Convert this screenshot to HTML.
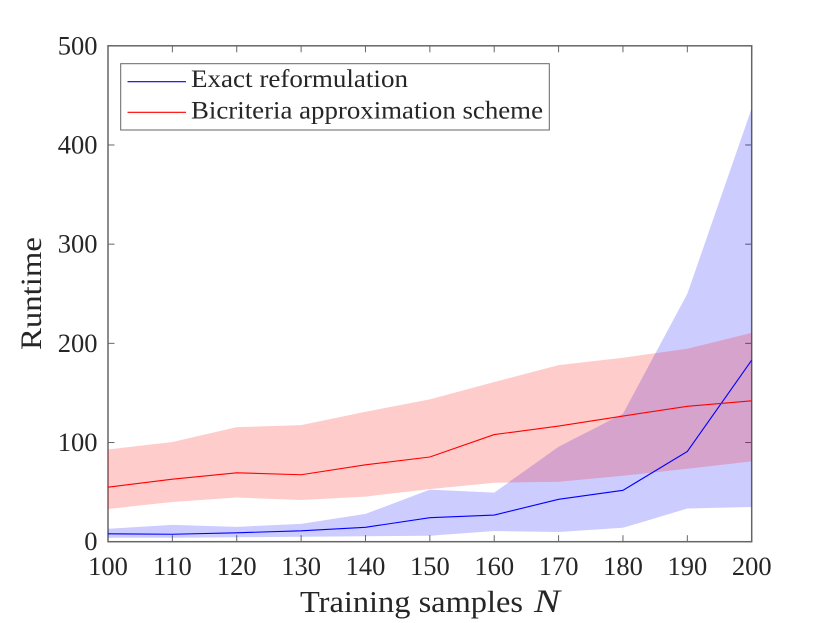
<!DOCTYPE html>
<html lang="en">
<head>
<meta charset="utf-8">
<title>Runtime chart</title>
<style>
html,body{margin:0;padding:0;background:#fff;width:830px;height:623px;overflow:hidden}
svg{display:block}
text{font-family:"Liberation Serif",serif;fill:#262626}
</style>
</head>
<body>
<svg id="chart" xmlns="http://www.w3.org/2000/svg" width="830" height="623" viewBox="0 0 830 623"></svg>
<script>
const sampleSizes = [100,110,120,130,140,150,160,170,180,190,200];
const exactMean  = [8,7.5,9,11,14.5,24.2,26.9,42.7,51.8,91,183];
const exactUpper = [13,17,15,18,28,52.5,49.5,95.8,129,250,437];
const exactLower = [4,4,4.5,5,5.5,6,10.8,9.8,14,33.5,35];
const bicriteriaMean  = [55,63,69.5,67.5,77.5,85.4,108,116.6,126.7,136.5,142];
const bicriteriaUpper = [93,100.5,115.5,117.5,131,143.5,161,178,185.5,194.5,210.5];
const bicriteriaLower = [33,40,44.5,42,45.5,53,59.5,60.5,66.5,73.5,81];
const xTickLabels = [100,110,120,130,140,150,160,170,180,190,200];
const yTickLabels = [0,100,200,300,400,500];
const legendLabels = ["Exact reformulation","Bicriteria approximation scheme"];

const NS = "http://www.w3.org/2000/svg";
const svg = document.getElementById("chart");
const left = 108, right = 751.7, top_ = 45.8, bottom = 541.7;
const xMin = 100, xMax = 200, yMin = 0, yMax = 500;
function xScale(v){ return left + (v - xMin) / (xMax - xMin) * (right - left); }
function yScale(v){ return bottom - (v - yMin) / (yMax - yMin) * (bottom - top_); }
function make(tag, attrs, parent){
  const el = document.createElementNS(NS, tag);
  for (const k in attrs) el.setAttribute(k, attrs[k]);
  (parent || svg).appendChild(el);
  return el;
}
const axisColor = "#666";

/* axes box */
const box = make("rect", {x:left, y:top_, width:right-left, height:bottom-top_, fill:"#fff", stroke:axisColor, "stroke-width":1.5});



/* ticks */
xTickLabels.forEach(function(t){
  const x = xScale(t);
  const tb = make("line", {x1:x, x2:x, y1:bottom, y2:bottom-6.5, stroke:axisColor, "stroke-width":1});
  
  
  const tt = make("line", {x1:x, x2:x, y1:top_, y2:top_+6.5, stroke:axisColor, "stroke-width":1});
  
  
  const lab = make("text", {x:x, y:575, "text-anchor":"middle", "font-size":26.5});
  
  
  lab.textContent = t;
});
yTickLabels.forEach(function(t){
  const y = yScale(t);
  const tl = make("line", {x1:left, x2:left+6.5, y1:y, y2:y, stroke:axisColor, "stroke-width":1});
  
  
  const tr = make("line", {x1:right, x2:right-6.5, y1:y, y2:y, stroke:axisColor, "stroke-width":1});
  
  
  const lab = make("text", {x:97.5, y:y+8.5, "text-anchor":"end", "font-size":26.5});
  
  
  lab.textContent = t;
});

/* bands */
function bandPoints(upper, lower){
  const pts = [];
  sampleSizes.forEach(function(s,i){ pts.push(xScale(s).toFixed(2)+","+yScale(upper[i]).toFixed(2)); });
  for (let i = sampleSizes.length-1; i >= 0; i--) pts.push(xScale(sampleSizes[i]).toFixed(2)+","+yScale(lower[i]).toFixed(2));
  return pts.join(" ");
}
function linePoints(values){
  return sampleSizes.map(function(s,i){ return xScale(s).toFixed(2)+","+yScale(values[i]).toFixed(2); }).join(" ");
}
const exactBand = make("polygon", {points:bandPoints(exactUpper, exactLower), fill:"#0000ff", "fill-opacity":0.2, stroke:"none"});


const biBand = make("polygon", {points:bandPoints(bicriteriaUpper, bicriteriaLower), fill:"#ff0000", "fill-opacity":0.2, stroke:"none"});


const exactLine = make("polyline", {points:linePoints(exactMean), fill:"none", stroke:"#0000ff", "stroke-width":1.1});


const biLine = make("polyline", {points:linePoints(bicriteriaMean), fill:"none", stroke:"#ff0000", "stroke-width":1.1});



/* axis titles */
const xTitle = make("text", {x:300, y:612, "font-size":31, textLength:223, lengthAdjust:"spacingAndGlyphs"});


xTitle.textContent = "Training samples";
const xTitleN = make("text", {x:534, y:612, "font-size":33, "font-style":"italic", textLength:26, lengthAdjust:"spacingAndGlyphs"});


xTitleN.textContent = "N";
const yTitle = make("text", {transform:"translate(41 350) rotate(-90)", x:0, y:0, "font-size":30, textLength:113, lengthAdjust:"spacingAndGlyphs"});


yTitle.textContent = "Runtime";

/* legend */
const legendBox = make("rect", {x:120.7, y:63.7, width:428.6, height:66.3, fill:"#fff", stroke:axisColor, "stroke-width":1});


const legendColors = ["#0000ff","#ff0000"];
const legendLineY = [81.7,112.3];
const legendTextY = [87,118.5];
const legendWidths = [217,352];
legendLabels.forEach(function(label,i){
  const sw = make("line", {x1:127.5, x2:186, y1:legendLineY[i], y2:legendLineY[i], stroke:legendColors[i], "stroke-width":1.1});
  
  
  const tx = make("text", {x:191, y:legendTextY[i], "font-size":25, textLength:legendWidths[i], lengthAdjust:"spacingAndGlyphs"});
  
  
  tx.textContent = label;
});
</script>
</body>
</html>
